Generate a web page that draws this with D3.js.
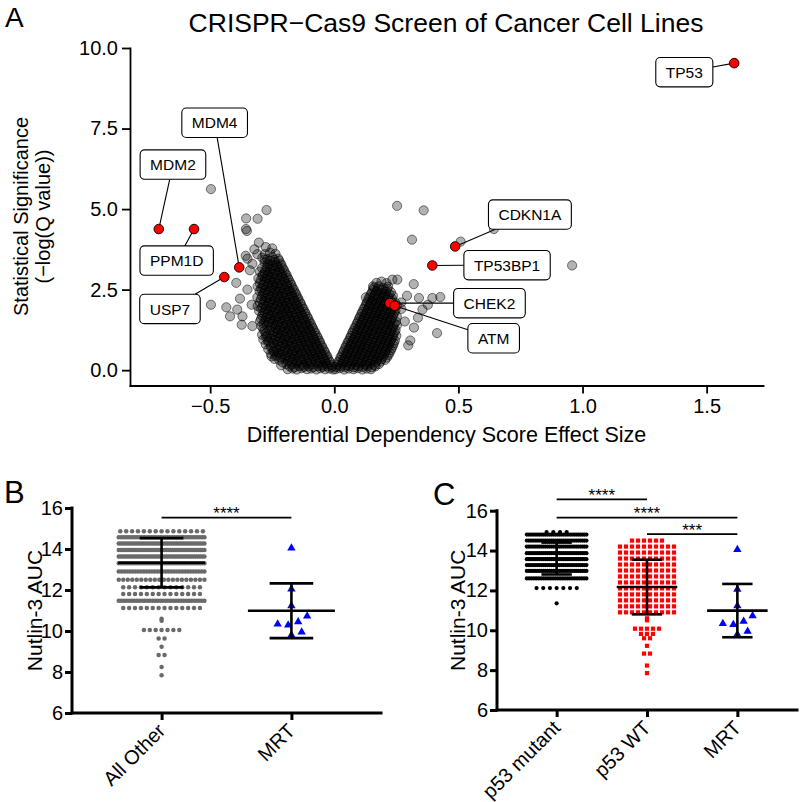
<!DOCTYPE html>
<html><head><meta charset="utf-8">
<script src="https://cdn.jsdelivr.net/npm/d3@7/dist/d3.min.js"></script>
<style>
html,body{margin:0;padding:0;background:#fff;}
svg{display:block;}
text{font-family:"Liberation Sans",Arial,Helvetica,sans-serif;fill:#000;}
</style></head><body>
<svg id="fig" width="800" height="802"></svg>
<script>
// ================= DATA =================
// ---- Panel A : volcano plot (effect size, -log10 Q) ----
const effectTicks = [-0.5, 0, 0.5, 1.0, 1.5];
const significanceTicks = [0, 2.5, 5, 7.5, 10];
const backgroundGenes = [
 // left arm
 [-0.005,0.02],[-0.02,0.05],[-0.037,0.03],[-0.056,0.06],[-0.072,0.02],[-0.093,0.05],[-0.11,0.03],[-0.132,0.06],[-0.151,0.02],[-0.168,0.05],[-0.188,0.03],
 [-0.012,0.16],[-0.031,0.2],[-0.049,0.15],[-0.068,0.21],[-0.091,0.17],[-0.108,0.2],[-0.129,0.16],[-0.152,0.21],[-0.171,0.17],[-0.193,0.19],[-0.214,0.15],
 [-0.022,0.31],[-0.041,0.35],[-0.06,0.3],[-0.079,0.36],[-0.101,0.32],[-0.12,0.35],[-0.139,0.3],[-0.162,0.34],[-0.181,0.31],[-0.2,0.36],[-0.222,0.32],[-0.241,0.35],
 [-0.031,0.46],[-0.051,0.5],[-0.069,0.45],[-0.091,0.49],[-0.109,0.47],[-0.131,0.51],[-0.15,0.46],[-0.169,0.5],[-0.192,0.45],[-0.211,0.49],[-0.233,0.47],[-0.255,0.51],
 [-0.041,0.61],[-0.061,0.65],[-0.079,0.6],[-0.102,0.64],[-0.119,0.62],[-0.141,0.66],[-0.16,0.6],[-0.181,0.65],[-0.199,0.61],[-0.222,0.64],[-0.244,0.6],[-0.266,0.65],
 [-0.051,0.76],[-0.072,0.8],[-0.089,0.75],[-0.111,0.79],[-0.131,0.77],[-0.149,0.81],[-0.171,0.75],[-0.19,0.8],[-0.211,0.76],[-0.229,0.79],[-0.254,0.77],[-0.276,0.8],
 [-0.06,0.91],[-0.081,0.95],[-0.099,0.9],[-0.121,0.94],[-0.139,0.92],[-0.161,0.96],[-0.18,0.9],[-0.201,0.95],[-0.219,0.91],[-0.241,0.94],[-0.266,0.92],[-0.286,0.95],
 [-0.07,1.06],[-0.091,1.1],[-0.109,1.05],[-0.131,1.09],[-0.149,1.07],[-0.171,1.11],[-0.19,1.05],[-0.211,1.1],[-0.229,1.06],[-0.251,1.09],[-0.271,1.07],[-0.291,1.1],
 [-0.08,1.21],[-0.101,1.25],[-0.119,1.2],[-0.141,1.24],[-0.16,1.22],[-0.181,1.26],[-0.2,1.2],[-0.221,1.25],[-0.239,1.21],[-0.261,1.24],[-0.282,1.22],
 [-0.09,1.36],[-0.111,1.4],[-0.129,1.35],[-0.151,1.39],[-0.17,1.37],[-0.191,1.41],[-0.209,1.35],[-0.231,1.4],[-0.25,1.36],[-0.271,1.39],[-0.294,1.37],
 [-0.1,1.51],[-0.121,1.55],[-0.139,1.5],[-0.161,1.54],[-0.18,1.52],[-0.201,1.56],[-0.219,1.5],[-0.241,1.55],[-0.26,1.51],[-0.281,1.54],[-0.299,1.52],
 [-0.109,1.66],[-0.13,1.7],[-0.149,1.65],[-0.171,1.69],[-0.19,1.67],[-0.211,1.71],[-0.229,1.65],[-0.251,1.7],[-0.27,1.66],[-0.291,1.69],
 [-0.119,1.81],[-0.14,1.85],[-0.159,1.8],[-0.181,1.84],[-0.2,1.82],[-0.221,1.86],[-0.239,1.8],[-0.261,1.85],[-0.28,1.81],[-0.303,1.84],
 [-0.129,1.96],[-0.15,2.0],[-0.169,1.95],[-0.191,1.99],[-0.21,1.97],[-0.231,2.01],[-0.249,1.95],[-0.271,2.0],[-0.29,1.96],[-0.309,1.99],
 [-0.138,2.11],[-0.16,2.15],[-0.179,2.1],[-0.201,2.14],[-0.22,2.12],[-0.241,2.16],[-0.259,2.1],[-0.281,2.15],[-0.3,2.11],
 [-0.148,2.26],[-0.17,2.3],[-0.189,2.25],[-0.211,2.29],[-0.23,2.27],[-0.251,2.31],[-0.269,2.25],[-0.291,2.3],[-0.31,2.26],
 [-0.158,2.41],[-0.18,2.45],[-0.199,2.4],[-0.221,2.44],[-0.24,2.42],[-0.261,2.46],[-0.279,2.4],[-0.301,2.45],
 [-0.168,2.56],[-0.19,2.6],[-0.209,2.55],[-0.231,2.59],[-0.25,2.57],[-0.271,2.61],[-0.289,2.55],[-0.309,2.6],
 [-0.177,2.71],[-0.199,2.75],[-0.219,2.7],[-0.241,2.74],[-0.26,2.72],[-0.281,2.76],[-0.3,2.7],
 [-0.187,2.86],[-0.209,2.9],[-0.229,2.85],[-0.251,2.89],[-0.27,2.87],[-0.29,2.91],[-0.306,2.85],
 [-0.197,3.01],[-0.219,3.05],[-0.239,3.0],[-0.261,3.04],[-0.28,3.02],[-0.3,3.06],
 [-0.207,3.16],[-0.229,3.2],[-0.249,3.15],[-0.271,3.19],[-0.291,3.17],
 [-0.216,3.31],[-0.239,3.35],[-0.26,3.3],[-0.281,3.34],
 [-0.226,3.46],[-0.249,3.5],[-0.27,3.45],[-0.29,3.49],
 [-0.237,3.61],[-0.259,3.65],[-0.28,3.6],
 [-0.25,3.78],[-0.276,3.82],
 // left arm, in-between
 [-0.01,0.1],[-0.028,0.12],[-0.047,0.1],[-0.066,0.13],[-0.085,0.09],[-0.104,0.12],[-0.123,0.1],[-0.142,0.13],[-0.161,0.09],[-0.18,0.12],
 [-0.018,0.25],[-0.037,0.27],[-0.056,0.24],[-0.075,0.28],[-0.094,0.25],[-0.113,0.27],[-0.132,0.24],[-0.151,0.28],[-0.17,0.25],[-0.189,0.27],[-0.208,0.24],
 [-0.027,0.4],[-0.046,0.42],[-0.065,0.39],[-0.084,0.43],[-0.103,0.4],[-0.122,0.42],[-0.141,0.39],[-0.16,0.43],[-0.179,0.4],[-0.198,0.42],[-0.217,0.39],[-0.236,0.43],
 [-0.037,0.55],[-0.056,0.57],[-0.075,0.54],[-0.094,0.58],[-0.113,0.55],[-0.132,0.57],[-0.151,0.54],[-0.17,0.58],[-0.189,0.55],[-0.208,0.57],[-0.227,0.54],[-0.246,0.58],
 [-0.047,0.7],[-0.066,0.72],[-0.085,0.69],[-0.104,0.73],[-0.123,0.7],[-0.142,0.72],[-0.161,0.69],[-0.18,0.73],[-0.199,0.7],[-0.218,0.72],[-0.237,0.69],[-0.257,0.73],
 [-0.057,0.85],[-0.076,0.87],[-0.095,0.84],[-0.114,0.88],[-0.133,0.85],[-0.152,0.87],[-0.171,0.84],[-0.19,0.88],[-0.209,0.85],[-0.228,0.87],[-0.247,0.84],[-0.266,0.88],
 [-0.066,1.0],[-0.085,1.02],[-0.104,0.99],[-0.123,1.03],[-0.142,1.0],[-0.161,1.02],[-0.18,0.99],[-0.199,1.03],[-0.218,1.0],[-0.237,1.02],[-0.256,0.99],[-0.276,1.03],
 [-0.076,1.15],[-0.095,1.17],[-0.114,1.14],[-0.133,1.18],[-0.152,1.15],[-0.171,1.17],[-0.19,1.14],[-0.209,1.18],[-0.228,1.15],[-0.247,1.17],[-0.276,1.14],
 [-0.086,1.3],[-0.105,1.32],[-0.124,1.29],[-0.143,1.33],[-0.162,1.3],[-0.181,1.32],[-0.2,1.29],[-0.219,1.33],[-0.238,1.3],[-0.257,1.32],[-0.286,1.29],
 [-0.095,1.45],[-0.114,1.47],[-0.133,1.44],[-0.152,1.48],[-0.171,1.45],[-0.19,1.47],[-0.209,1.44],[-0.228,1.48],[-0.247,1.45],[-0.266,1.47],[-0.285,1.44],
 [-0.105,1.6],[-0.124,1.62],[-0.143,1.59],[-0.162,1.63],[-0.181,1.6],[-0.2,1.62],[-0.219,1.59],[-0.238,1.63],[-0.257,1.6],[-0.276,1.62],[-0.295,1.59],
 [-0.115,1.75],[-0.134,1.77],[-0.153,1.74],[-0.172,1.78],[-0.191,1.75],[-0.21,1.77],[-0.229,1.74],[-0.248,1.78],[-0.267,1.75],[-0.286,1.77],
 [-0.124,1.9],[-0.143,1.92],[-0.162,1.89],[-0.181,1.93],[-0.2,1.9],[-0.219,1.92],[-0.238,1.89],[-0.257,1.93],[-0.276,1.9],[-0.295,1.92],
 [-0.134,2.05],[-0.153,2.07],[-0.172,2.04],[-0.191,2.08],[-0.21,2.05],[-0.229,2.07],[-0.248,2.04],[-0.267,2.08],[-0.286,2.05],
 [-0.144,2.2],[-0.163,2.22],[-0.182,2.19],[-0.201,2.23],[-0.22,2.2],[-0.239,2.22],[-0.258,2.19],[-0.277,2.23],[-0.296,2.2],
 [-0.153,2.35],[-0.172,2.37],[-0.191,2.34],[-0.21,2.38],[-0.229,2.35],[-0.248,2.37],[-0.267,2.34],[-0.286,2.38],
 [-0.163,2.5],[-0.182,2.52],[-0.201,2.49],[-0.22,2.53],[-0.239,2.5],[-0.258,2.52],[-0.277,2.49],[-0.296,2.53],
 [-0.173,2.65],[-0.192,2.67],[-0.211,2.64],[-0.23,2.68],[-0.249,2.65],[-0.268,2.67],[-0.287,2.64],
 [-0.183,2.8],[-0.202,2.82],[-0.221,2.79],[-0.24,2.83],[-0.259,2.8],[-0.278,2.82],[-0.297,2.79],
 [-0.192,2.95],[-0.211,2.97],[-0.23,2.94],[-0.249,2.98],[-0.268,2.95],[-0.287,2.97],
 [-0.202,3.1],[-0.221,3.12],[-0.24,3.09],[-0.259,3.13],[-0.278,3.1],
 [-0.212,3.25],[-0.231,3.27],[-0.25,3.24],[-0.269,3.28],
 [-0.222,3.4],[-0.241,3.42],[-0.26,3.39],[-0.28,3.43],
 // right arm
 [0.005,0.03],[0.022,0.06],[0.04,0.02],[0.058,0.05],[0.077,0.03],[0.095,0.06],[0.113,0.02],[0.131,0.05],[0.148,0.03],
 [0.012,0.17],[0.031,0.2],[0.05,0.15],[0.069,0.19],[0.088,0.16],[0.107,0.21],[0.126,0.17],[0.145,0.2],[0.163,0.16],[0.18,0.19],
 [0.021,0.31],[0.04,0.35],[0.059,0.3],[0.078,0.34],[0.097,0.32],[0.116,0.36],[0.135,0.3],[0.154,0.35],[0.172,0.31],[0.19,0.34],[0.205,0.32],
 [0.03,0.46],[0.049,0.5],[0.068,0.45],[0.087,0.49],[0.106,0.47],[0.125,0.51],[0.144,0.46],[0.163,0.5],[0.182,0.45],[0.2,0.49],[0.218,0.47],
 [0.039,0.61],[0.058,0.65],[0.077,0.6],[0.096,0.64],[0.115,0.62],[0.134,0.66],[0.153,0.6],[0.172,0.65],[0.191,0.61],[0.21,0.64],[0.228,0.62],
 [0.048,0.76],[0.067,0.8],[0.086,0.75],[0.105,0.79],[0.124,0.77],[0.143,0.81],[0.162,0.75],[0.181,0.8],[0.2,0.76],[0.219,0.79],[0.237,0.77],
 [0.058,0.91],[0.077,0.95],[0.096,0.9],[0.115,0.94],[0.134,0.92],[0.153,0.96],[0.172,0.9],[0.191,0.95],[0.21,0.91],[0.228,0.94],[0.244,0.92],
 [0.067,1.06],[0.086,1.1],[0.105,1.05],[0.124,1.09],[0.143,1.07],[0.162,1.11],[0.181,1.05],[0.2,1.1],[0.219,1.06],[0.237,1.09],[0.25,1.07],
 [0.076,1.21],[0.095,1.25],[0.114,1.2],[0.133,1.24],[0.152,1.22],[0.171,1.26],[0.19,1.2],[0.209,1.25],[0.228,1.21],[0.247,1.24],
 [0.086,1.36],[0.105,1.4],[0.124,1.35],[0.143,1.39],[0.162,1.37],[0.181,1.41],[0.2,1.35],[0.219,1.4],[0.238,1.36],[0.252,1.39],
 [0.095,1.51],[0.114,1.55],[0.133,1.5],[0.152,1.54],[0.171,1.52],[0.19,1.56],[0.209,1.5],[0.228,1.55],[0.248,1.51],
 [0.104,1.66],[0.123,1.7],[0.142,1.65],[0.161,1.69],[0.18,1.67],[0.199,1.71],[0.218,1.65],[0.237,1.7],[0.252,1.66],
 [0.113,1.81],[0.132,1.85],[0.151,1.8],[0.17,1.84],[0.189,1.82],[0.208,1.86],[0.227,1.8],[0.246,1.85],
 [0.123,1.96],[0.142,2.0],[0.161,1.95],[0.18,1.99],[0.199,1.97],[0.218,2.01],[0.237,1.95],[0.252,2.0],
 [0.132,2.11],[0.151,2.15],[0.17,2.1],[0.189,2.14],[0.208,2.12],[0.227,2.16],[0.245,2.1],
 [0.141,2.26],[0.16,2.3],[0.179,2.25],[0.198,2.29],[0.217,2.27],[0.236,2.31],
 [0.151,2.41],[0.17,2.45],[0.189,2.4],[0.208,2.44],[0.228,2.42],
 [0.16,2.56],[0.179,2.6],[0.198,2.55],[0.217,2.59],
 [0.17,2.71],[0.19,2.75],[0.21,2.7],
 // right arm, in-between
 [0.007,0.1],[0.025,0.12],[0.043,0.1],[0.061,0.13],[0.079,0.09],[0.097,0.12],[0.115,0.1],[0.133,0.13],[0.151,0.09],[0.166,0.12],
 [0.016,0.25],[0.035,0.27],[0.054,0.24],[0.073,0.28],[0.092,0.25],[0.111,0.27],[0.13,0.24],[0.149,0.28],[0.168,0.25],[0.187,0.27],
 [0.025,0.4],[0.044,0.42],[0.063,0.39],[0.082,0.43],[0.101,0.4],[0.12,0.42],[0.139,0.39],[0.158,0.43],[0.177,0.4],[0.196,0.42],[0.212,0.39],
 [0.035,0.55],[0.054,0.57],[0.073,0.54],[0.092,0.58],[0.111,0.55],[0.13,0.57],[0.149,0.54],[0.168,0.58],[0.187,0.55],[0.206,0.57],[0.223,0.54],
 [0.044,0.7],[0.063,0.72],[0.082,0.69],[0.101,0.73],[0.12,0.7],[0.139,0.72],[0.158,0.69],[0.177,0.73],[0.196,0.7],[0.215,0.72],[0.232,0.69],
 [0.053,0.85],[0.072,0.87],[0.091,0.84],[0.11,0.88],[0.129,0.85],[0.148,0.87],[0.167,0.84],[0.186,0.88],[0.205,0.85],[0.224,0.87],[0.24,0.84],
 [0.063,1.0],[0.082,1.02],[0.101,0.99],[0.12,1.03],[0.139,1.0],[0.158,1.02],[0.177,0.99],[0.196,1.03],[0.215,1.0],[0.234,1.02],
 [0.072,1.15],[0.091,1.17],[0.11,1.14],[0.129,1.18],[0.148,1.15],[0.167,1.17],[0.186,1.14],[0.205,1.18],[0.224,1.15],[0.243,1.17],
 [0.081,1.3],[0.1,1.32],[0.119,1.29],[0.138,1.33],[0.157,1.3],[0.176,1.32],[0.195,1.29],[0.214,1.33],[0.233,1.3],
 [0.091,1.45],[0.11,1.47],[0.129,1.44],[0.148,1.48],[0.167,1.45],[0.186,1.47],[0.205,1.44],[0.224,1.48],[0.243,1.45],
 [0.1,1.6],[0.119,1.62],[0.138,1.59],[0.157,1.63],[0.176,1.6],[0.195,1.62],[0.214,1.59],[0.233,1.63],
 [0.109,1.75],[0.128,1.77],[0.147,1.74],[0.166,1.78],[0.185,1.75],[0.204,1.77],[0.223,1.74],[0.242,1.78],
 [0.118,1.9],[0.137,1.92],[0.156,1.89],[0.175,1.93],[0.194,1.9],[0.213,1.92],[0.232,1.89],
 [0.128,2.05],[0.147,2.07],[0.166,2.04],[0.185,2.08],[0.204,2.05],[0.223,2.07],[0.242,2.04],
 [0.137,2.2],[0.156,2.22],[0.175,2.19],[0.194,2.23],[0.213,2.2],[0.232,2.22],
 [0.146,2.35],[0.165,2.37],[0.184,2.34],[0.203,2.38],[0.222,2.35],
 [0.156,2.5],[0.175,2.52],[0.194,2.49],[0.213,2.53],
 // scattered genes
 [-0.497,5.62],[-0.273,4.97],[-0.309,4.7],[-0.355,4.71],[-0.356,4.38],[-0.352,4.32],[-0.304,3.96],[-0.322,3.75],[-0.357,3.55],[-0.35,3.46],
 [-0.395,2.71],[-0.35,2.5],[-0.38,2.22],[-0.497,2.03],[-0.435,1.95],[-0.391,1.88],[-0.42,1.67],[-0.37,1.67],[-0.373,1.41],[-0.33,1.37],
 [-0.253,0.43],[-0.333,2.03],[-0.34,3.1],[-0.33,3.3],[-0.31,3.6],
 [0.253,5.1],[0.36,4.96],[0.313,4.05],[0.509,3.99],[0.643,4.38],[0.958,3.25],[0.32,2.67],[0.234,2.81],[0.254,2.81],[0.293,2.31],
 [0.341,2.24],[0.395,2.24],[0.427,2.27],[0.377,2.03],[0.355,1.88],[0.337,1.63],[0.321,1.32],[0.414,1.15],[0.306,0.92],[0.298,0.77],
 [0.284,1.51],[0.156,2.6],[0.127,2.26],[0.27,1.9],[0.27,2.1]
];
const highlightGenes = ["TP53","MDM2","PPM1D","MDM4","USP7","CDKN1A","TP53BP1","CHEK2","ATM"];
const highlightEffect = [1.611,-0.707,-0.565,-0.383,-0.443,0.487,0.395,0.223,0.243];
const highlightSignificance = [9.53,4.38,4.38,3.19,2.89,3.84,3.25,2.08,2.0];

// ---- Panels B and C : Nutlin-3 AUC ----
const aucTicks = [6, 8, 10, 12, 14, 16];
const bGroups = ["All Other", "MRT"];
const cGroups = ["p53 mutant", "p53 WT", "MRT"];
// rows of equal AUC: [AUC, number of cell lines]
const allOtherRows = [[14.86,15],[14.57,38],[14.27,42],[13.95,44],[13.63,44],[13.31,40],[12.9,32],[12.5,20],[12.14,14],[11.8,14],[11.47,34],[11.12,14],
  [10.6,1],[10.5,1],[10.05,7],[9.64,2],[9.23,1],[8.83,2],[8.24,1],[7.84,1]];
const p53MutantRows = [[14.93,4],[14.8,30],[14.5,30],[14.2,30],[13.87,30],[13.57,30],[13.27,30],[12.98,30],[12.6,26],[12.12,7],[11.35,1]];
const p53WTRows = [[14.5,6],[14.2,10],[13.9,10],[13.6,10],[13.3,10],[13.0,10],[12.7,10],[12.4,10],[12.1,10],[11.8,10],[11.5,10],[11.2,10],[10.9,10],
  [10.6,1],[10.5,1],[10.08,5],[9.82,3],[9.6,2],[9.22,1],[8.83,2],[8.23,1],[7.85,1]];
const mrtAUC = [14.05, 12.05, 11.23, 10.73, 10.45, 10.34, 10.29, 9.95, 9.8];
// mean and SD
const allOtherMean = 13.33, allOtherSD = 1.2;
const p53MutantMean = 13.6, p53MutantSD = 0.8;
const p53WTMean = 12.17, p53WTSD = 1.37;
const bComparisons = [["All Other","MRT","****"]];
const cComparisons = [["p53 mutant","p53 WT","****"],["p53 mutant","MRT","****"],["p53 WT","MRT","***"]];

// ================= LAYOUT / STYLE =================
const labelCentres = {TP53:[1.41,9.25],MDM4:[-0.482,7.68],MDM2:[-0.65,6.38],PPM1D:[-0.635,3.40],USP7:[-0.662,1.90],
  CDKN1A:[0.788,4.83],TP53BP1:[0.696,3.26],CHEK2:[0.625,2.08],ATM:[0.642,0.99]};
const bBarLevels = [15.53];
const cBarLevels = [16.57, 15.65, 14.82];

const svg = d3.select("#fig");

// ---------- Panel A ----------
const ax = d3.scaleLinear().domain([-0.823, 1.727]).range([130, 763]);
const ay = d3.scaleLinear().domain([-0.4765, 10.0]).range([385.5, 48]);

svg.append("text").attr("x",5).attr("y",27).attr("font-size",28).text("A");
svg.append("text").attr("x",446).attr("y",31.5).attr("text-anchor","middle").attr("font-size",26.5)
  .text("CRISPR\u2212Cas9 Screen of Cancer Cell Lines");

function styleAxis(g, w, fs){
  g.select(".domain").attr("stroke","#000").attr("stroke-width",w).attr("stroke-linecap","square");
  g.selectAll(".tick line").attr("stroke","#000").attr("stroke-width",w);
  g.selectAll(".tick text").attr("font-size",fs).attr("font-family",'"Liberation Sans",Arial,sans-serif').attr("fill","#000");
  g.attr("font-family",null).attr("font-size",null);
}
const gax = svg.append("g").attr("transform","translate(0,385.5)")
  .call(d3.axisBottom(ax).tickValues(effectTicks).tickFormat(d3.format(".1f")).tickSize(8).tickSizeOuter(0).tickPadding(5));
styleAxis(gax, 1.8, 20);
const gay = svg.append("g").attr("transform","translate(130,0)")
  .call(d3.axisLeft(ay).tickValues(significanceTicks).tickFormat(d3.format(".1f")).tickSize(8).tickSizeOuter(0).tickPadding(4));
styleAxis(gay, 1.8, 20);

svg.append("text").attr("x",446.5).attr("y",442).attr("text-anchor","middle").attr("font-size",21.5)
  .text("Differential Dependency Score Effect Size");
svg.append("text").attr("transform","translate(27.5,216.5) rotate(-90)").attr("text-anchor","middle").attr("font-size",20)
  .text("Statistical Significance");
svg.append("text").attr("transform","translate(50,216.5) rotate(-90)").attr("text-anchor","middle").attr("font-size",20)
  .text("(\u2212log(Q value))");

svg.append("g").selectAll("circle").data(backgroundGenes).join("circle")
  .attr("cx",d=>ax(d[0])).attr("cy",d=>ay(d[1])).attr("r",4.6)
  .attr("fill","#000").attr("fill-opacity",0.3)
  .attr("stroke","#000").attr("stroke-opacity",0.5).attr("stroke-width",1);

const hl = highlightGenes.map((g,i)=>({gene:g, x:highlightEffect[i], y:highlightSignificance[i]}));
const gSeg = svg.append("g");
svg.append("g").selectAll("circle").data(hl).join("circle")
  .attr("cx",d=>ax(d.x)).attr("cy",d=>ay(d.y)).attr("r",4.8)
  .attr("fill","#ff0000").attr("stroke","#000").attr("stroke-width",0.9);
const gBox = svg.append("g");
hl.forEach(d=>{
  const c = labelCentres[d.gene];
  const cx = ax(c[0]), cy = ay(c[1]);
  const t = gBox.append("text").attr("x",cx).attr("y",cy).attr("dy","0.36em").attr("text-anchor","middle")
    .attr("font-size",15.5).text(d.gene);
  const tw = t.node().getComputedTextLength();
  const hw = tw/2 + 10, hh = 14.7;
  gBox.insert("rect","text").attr("x",cx-hw).attr("y",cy-hh).attr("width",2*hw).attr("height",2*hh)
    .attr("rx",4.5).attr("fill","#fff").attr("stroke","#000").attr("stroke-width",1.1);
  const px = ax(d.x), py = ay(d.y);
  const dx = px-cx, dy = py-cy;
  const s = Math.min(Math.abs(dx)>0 ? hw/Math.abs(dx) : 1e9, Math.abs(dy)>0 ? hh/Math.abs(dy) : 1e9);
  gSeg.append("line").attr("x1",cx+dx*s).attr("y1",cy+dy*s).attr("x2",px).attr("y2",py)
    .attr("stroke","#000").attr("stroke-width",1.1);
});

// ---------- Panels B & C ----------
function rowLayout(rows, cx, step, maxHalf){
  const pts = [];
  rows.forEach(([v,n])=>{
    const s = n>1 ? Math.min(step, 2*maxHalf/(n-1)) : 0;
    for(let i=0;i<n;i++) pts.push({x: cx + (i-(n-1)/2)*s, v});
  });
  return pts;
}
function swarmLayout(values, cx, yScale, d){
  const sorted = values.slice().sort((a,b)=>a-b);
  const placed = [];
  sorted.forEach(v=>{
    const y = yScale(v);
    let best = null;
    for(let k=0;k<400 && best===null;k++){
      const cands = k===0 ? [0] : [k*0.25, -k*0.25];
      for(const off of cands){
        if(placed.every(p=>Math.hypot(p.off-off, p.y-y) >= d)){ best = off; break; }
      }
    }
    placed.push({off:best, y, v});
  });
  return placed.map(p=>({x: cx+p.off, v:p.v}));
}
function meanSD(arr){ return [d3.mean(arr), d3.deviation(arr)]; }

function dotPanel(cfg){
  const y = d3.scaleLinear().domain([6,16]).range([cfg.yBottom, cfg.yTop]);
  const x = d3.scalePoint().domain(cfg.groups).range([cfg.xLeft, cfg.xRight]).padding(cfg.padding);
  const step = x.step();
  svg.append("text").attr("x",cfg.letterX).attr("y",cfg.letterY).attr("font-size",31).text(cfg.letter);
  const gy = svg.append("g").attr("transform",`translate(${cfg.xLeft},0)`)
    .call(d3.axisLeft(y).tickValues(aucTicks).tickSize(7).tickSizeOuter(0).tickPadding(2));
  styleAxis(gy, 3, 20);
  const gx = svg.append("g").attr("transform",`translate(0,${cfg.yBottom})`)
    .call(d3.axisBottom(x).tickSize(7).tickSizeOuter(0).tickFormat(""));
  styleAxis(gx, 3, 20);
  gx.select(".domain").attr("d",`M${cfg.xLeft},0H${cfg.xRight}`);
  gy.select(".domain").attr("d",`M0,${cfg.yBottom}V${cfg.yTop}`);
  cfg.groups.forEach(g=>{
    svg.append("text").attr("transform",`translate(${x(g)+5},${cfg.yBottom+19}) rotate(-45)`)
      .attr("text-anchor","end").attr("font-size",20).text(g);
  });
  svg.append("text").attr("transform",`translate(${cfg.titleX},${(cfg.yTop+cfg.yBottom)/2}) rotate(-90)`)
    .attr("text-anchor","middle").attr("font-size",21).text("Nutlin-3 AUC");

  const maxHalf = step*0.33;
  cfg.series.forEach(s=>{
    const cx = x(s.group);
    const pts = s.rows ? rowLayout(s.rows, cx, s.step, maxHalf) : swarmLayout(s.values, cx, y, 10.5);
    const g = svg.append("g");
    if(s.shape==="circle"){
      g.selectAll("circle").data(pts).join("circle").attr("cx",d=>d.x).attr("cy",d=>y(d.v)).attr("r",s.r).attr("fill",s.color);
    } else if(s.shape==="square"){
      g.selectAll("rect").data(pts).join("rect").attr("x",d=>d.x-s.r).attr("y",d=>y(d.v)-s.r)
        .attr("width",2*s.r).attr("height",2*s.r).attr("fill",s.color);
    } else {
      const sym = d3.symbol().type(d3.symbolTriangle).size(s.size);
      g.selectAll("path").data(pts).join("path").attr("transform",d=>`translate(${d.x},${y(d.v)})`).attr("d",sym).attr("fill",s.color);
    }
    const [m, sd] = s.stats;
    const eb = svg.append("g").attr("stroke","#000").attr("stroke-width",2.6);
    eb.append("line").attr("x1",cx-step*0.335).attr("x2",cx+step*0.335).attr("y1",y(m)).attr("y2",y(m));
    eb.append("line").attr("x1",cx).attr("x2",cx).attr("y1",y(m+sd)).attr("y2",y(m-sd));
    eb.append("line").attr("x1",cx-step*0.168).attr("x2",cx+step*0.168).attr("y1",y(m+sd)).attr("y2",y(m+sd));
    eb.append("line").attr("x1",cx-step*0.168).attr("x2",cx+step*0.168).attr("y1",y(m-sd)).attr("y2",y(m-sd));
  });
  cfg.comparisons.forEach((c,i)=>{
    const ly = y(cfg.barLevels[i]);
    svg.append("line").attr("x1",x(c[0])).attr("x2",x(c[1])).attr("y1",ly).attr("y2",ly)
      .attr("stroke","#000").attr("stroke-width",1.8);
    svg.append("text").attr("x",(x(c[0])+x(c[1]))/2).attr("y",ly+1.5).attr("text-anchor","middle")
      .attr("font-size",17).text(c[2]);
  });
}

dotPanel({
  letter:"B", letterX:4, letterY:503, titleX:41.5,
  groups:bGroups, xLeft:72, xRight:381, padding:0.69, yBottom:713, yTop:508,
  series:[
    {group:"All Other", rows:allOtherRows, shape:"circle", r:2.25, color:"#6a6a6a", step:5.9, stats:[allOtherMean, allOtherSD]},
    {group:"MRT", values:mrtAUC, shape:"triangle", size:30, color:"#0000ff", stats:meanSD(mrtAUC)}
  ],
  comparisons:bComparisons, barLevels:bBarLevels
});
dotPanel({
  letter:"C", letterX:433, letterY:505, titleX:465,
  groups:cGroups, xLeft:497, xRight:797, padding:0.66, yBottom:710, yTop:510.7,
  series:[
    {group:"p53 mutant", rows:p53MutantRows, shape:"circle", r:2.1, color:"#000", step:6.7, stats:[p53MutantMean, p53MutantSD]},
    {group:"p53 WT", rows:p53WTRows, shape:"square", r:2.1, color:"#ff0000", step:6.0, stats:[p53WTMean, p53WTSD]},
    {group:"MRT", values:mrtAUC, shape:"triangle", size:30, color:"#0000ff", stats:meanSD(mrtAUC)}
  ],
  comparisons:cComparisons, barLevels:cBarLevels
});
</script>
</body></html>
